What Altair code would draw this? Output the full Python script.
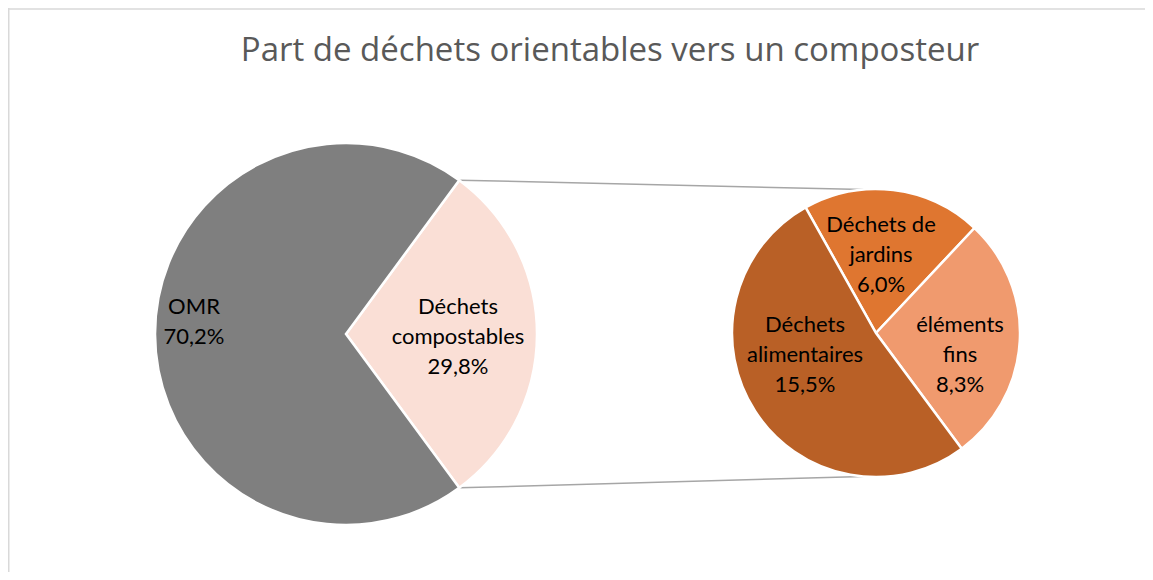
import math
import altair as alt
import pandas as pd

# ---- data ----
main_categories = ["Déchets compostables", "OMR"]
main_values = [29.8, 70.2]
main_label_lines = [["Déchets", "compostables"], ["OMR"]]

sub_categories = ["Déchets de jardins", "éléments fins", "Déchets alimentaires"]
sub_values = [6.0, 8.3, 15.5]
sub_label_lines = [["Déchets de", "jardins"], ["éléments", "fins"], ["Déchets", "alimentaires"]]

title_text = "Part de déchets orientables vers un composteur"

# ---- layout / style ----
W, H = 1137, 564
main_c = (338, 326)
main_r = 191
sub_c = (868, 325)
sub_r = 144
sub_start_deg = -29.3
# position of the first line of each label (chart pixels)
main_label_pos = {"Déchets compostables": (450, 299), "OMR": (186, 299)}
sub_label_pos = {"Déchets de jardins": (873, 217), "éléments fins": (952, 317),
                 "Déchets alimentaires": (797, 317)}
colors = {"OMR": "#7f7f7f", "Déchets compostables": "#fadfd6",
          "Déchets de jardins": "#df7630", "éléments fins": "#f09a6e",
          "Déchets alimentaires": "#b96026"}
FONT = "Lato"
TITLE_FONT = "Open Sans"


def pct(v):
    return f"{v:.1f}".replace(".", ",") + "%"


main_df = pd.DataFrame({
    "cat": main_categories, "value": main_values, "order": range(len(main_values)),
    "label": ["\n".join(l + [pct(v)]) for l, v in zip(main_label_lines, main_values)],
})
main_df["lx"] = [main_label_pos[c][0] for c in main_categories]
main_df["ly"] = [main_label_pos[c][1] for c in main_categories]

sub_df = pd.DataFrame({
    "cat": sub_categories, "value": sub_values, "order": range(len(sub_values)),
    "label": ["\n".join(l + [pct(v)]) for l, v in zip(sub_label_lines, sub_values)],
})
sub_df["lx"] = [sub_label_pos[c][0] for c in sub_categories]
sub_df["ly"] = [sub_label_pos[c][1] for c in sub_categories]

color_scale = alt.Scale(domain=list(colors.keys()), range=list(colors.values()))

# main pie: compostable slice centred on the right
frac = main_values[0] / sum(main_values)
main_start = math.pi / 2 - frac * math.pi
main_arc = alt.Chart(main_df).mark_arc(stroke="white", strokeWidth=2.5).encode(
    theta=alt.Theta("value:Q", stack=True,
                    scale=alt.Scale(range=[main_start, main_start + 2 * math.pi])),
    color=alt.Color("cat:N", scale=color_scale, legend=None),
    order=alt.Order("order:Q"),
    x=alt.value(main_c[0]), y=alt.value(main_c[1]),
    radius=alt.value(main_r),
)

sub_start = math.radians(sub_start_deg)
sub_arc = alt.Chart(sub_df).mark_arc(stroke="white", strokeWidth=2.5).encode(
    theta=alt.Theta("value:Q", stack=True,
                    scale=alt.Scale(range=[sub_start, sub_start + 2 * math.pi])),
    color=alt.Color("cat:N", scale=color_scale, legend=None),
    order=alt.Order("order:Q"),
    x=alt.value(sub_c[0]), y=alt.value(sub_c[1]),
    radius=alt.value(sub_r),
)

labels_df = pd.concat([main_df, sub_df], ignore_index=True)
labels = alt.Chart(labels_df).mark_text(
    font=FONT, fontSize=22, lineHeight=30, lineBreak="\n", color="#000000",
    align="center", baseline="middle",
).encode(
    x=alt.X("lx:Q", scale=None), y=alt.Y("ly:Q", scale=None), text="label:N",
)

# connector lines from main slice edges to the top/bottom of the secondary pie
a1 = main_start
a2 = main_start + frac * 2 * math.pi
b1 = math.radians(-5)
b2 = math.radians(185)
conn_df = pd.DataFrame({
    "x1": [main_c[0] + main_r * math.sin(a1), main_c[0] + main_r * math.sin(a2)],
    "y1": [main_c[1] - main_r * math.cos(a1), main_c[1] - main_r * math.cos(a2)],
    "x2": [sub_c[0] + sub_r * math.sin(b1), sub_c[0] + sub_r * math.sin(b2)],
    "y2": [sub_c[1] - sub_r * math.cos(b1), sub_c[1] - sub_r * math.cos(b2)],
})
connectors = alt.Chart(conn_df).mark_rule(color="#a6a6a6", strokeWidth=1.5).encode(
    x=alt.X("x1:Q", scale=None), y=alt.Y("y1:Q", scale=None),
    x2="x2:Q", y2="y2:Q",
)

border_df = pd.DataFrame({"x1": [0, 0.75], "y1": [1, 0], "x2": [W, 0.75], "y2": [1, H]})
border = alt.Chart(border_df).mark_rule(color="#d9d9d9", strokeWidth=1.5).encode(
    x=alt.X("x1:Q", scale=None), y=alt.Y("y1:Q", scale=None),
    x2="x2:Q", y2="y2:Q",
)

title = alt.Chart(pd.DataFrame({"t": [title_text]})).mark_text(
    font=TITLE_FONT, fontSize=33, color="#595959", align="center", baseline="alphabetic",
).encode(x=alt.value(602), y=alt.value(53), text="t:N")

chart = alt.layer(border, connectors, main_arc, sub_arc, labels, title).resolve_scale(
    theta="independent"
).properties(
    width=W, height=H, padding=0, autosize=alt.AutoSizeParams(type="none"),
).configure_view(stroke=None)

chart.save("out.html", embed_options={"renderer": "svg", "actions": False})
